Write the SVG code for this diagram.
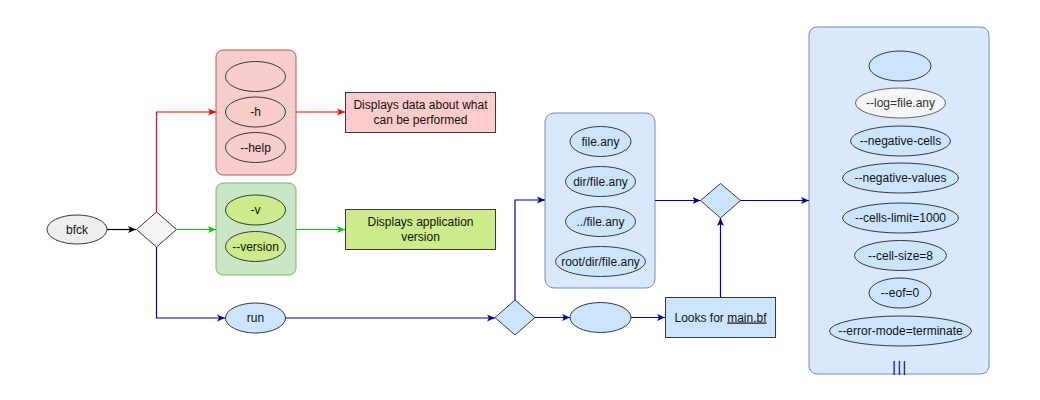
<svg xmlns="http://www.w3.org/2000/svg" width="1040" height="400" viewBox="0 0 1040 400">
<defs>
<style>
text{font-family:"Liberation Sans",Arial,sans-serif;font-size:12px;fill:#111;text-anchor:middle}
.el{stroke:#36393d;stroke-width:1}
.c{fill:none;stroke-width:1.2}
.r{stroke:#ff0000}.g{stroke:#00cc00}.b{stroke:#0000aa}.k{stroke:#000}
</style>
<marker id="mk" viewBox="0 0 8 8" refX="8" refY="4" markerWidth="8" markerHeight="8" markerUnits="userSpaceOnUse" orient="auto"><path d="M0,0.5 L8,4 L0,7.5 L2,4 z" fill="#000"/></marker>
<marker id="mr" viewBox="0 0 8 8" refX="8" refY="4" markerWidth="8" markerHeight="8" markerUnits="userSpaceOnUse" orient="auto"><path d="M0,0.5 L8,4 L0,7.5 L2,4 z" fill="#ff0000"/></marker>
<marker id="mg" viewBox="0 0 8 8" refX="8" refY="4" markerWidth="8" markerHeight="8" markerUnits="userSpaceOnUse" orient="auto"><path d="M0,0.5 L8,4 L0,7.5 L2,4 z" fill="#00cc00"/></marker>
<marker id="mb" viewBox="0 0 8 8" refX="8" refY="4" markerWidth="8" markerHeight="8" markerUnits="userSpaceOnUse" orient="auto"><path d="M0,0.5 L8,4 L0,7.5 L2,4 z" fill="#0000aa"/></marker>
</defs>
<rect width="1040" height="400" fill="#fff"/>

<g id="bfck"><ellipse class="el" cx="77" cy="229.5" rx="30" ry="14.5" fill="#eeeeee"/><text x="77" y="233.5">bfck</text></g>
<g id="decision1"><polygon class="el" points="156.5,212 176.5,229.5 156.5,247 136.5,229.5" fill="#f5f5f5" stroke="#000"/></g>

<g id="help-group">
<rect x="216" y="50" width="80" height="125" rx="7" fill="#f8cecc" stroke="#b85450"/>
<ellipse class="el" cx="255.5" cy="76.5" rx="30" ry="15" fill="#f8cecc"/>
<ellipse class="el" cx="255.5" cy="112" rx="30" ry="15" fill="#f8cecc"/><text x="255.5" y="116">-h</text>
<ellipse class="el" cx="255.5" cy="147.5" rx="30" ry="15" fill="#f8cecc"/><text x="255.5" y="151.5">--help</text>
</g>
<g id="help-box"><rect class="el" x="345.5" y="92.5" width="150" height="40" fill="#ffcccc"/><text x="420.5" y="109">Displays data about what</text><text x="420.5" y="124">can be performed</text></g>

<g id="version-group">
<rect x="216" y="183" width="80" height="92" rx="7" fill="#c9e7c5" stroke="#82b366"/>
<ellipse class="el" cx="255.5" cy="210" rx="30" ry="15" fill="#cdeb8b"/><text x="255.5" y="214">-v</text>
<ellipse class="el" cx="255.5" cy="246.5" rx="30" ry="15" fill="#cdeb8b"/><text x="255.5" y="250.5">--version</text>
</g>
<g id="version-box"><rect class="el" x="345.5" y="209.5" width="150" height="40" fill="#cdeb8b"/><text x="420.5" y="226">Displays application</text><text x="420.5" y="241">version</text></g>

<g id="run"><ellipse class="el" cx="255.5" cy="318" rx="30" ry="15" fill="#cce5ff"/><text x="255.5" y="322">run</text></g>
<g id="decision2"><polygon class="el" points="515,300 535,317.5 515,335 495,317.5" fill="#cce5ff"/></g>

<g id="files-group">
<rect x="545" y="113" width="110" height="175" rx="9" fill="#dae8fc" stroke="#6c8ebf"/>
<ellipse class="el" cx="600.5" cy="141.5" rx="30.5" ry="15" fill="#cce5ff"/><text x="600.5" y="145.5">file.any</text>
<ellipse class="el" cx="600.5" cy="181.5" rx="35" ry="15" fill="#cce5ff"/><text x="600.5" y="185.5">dir/file.any</text>
<ellipse class="el" cx="600.5" cy="221.5" rx="35" ry="15" fill="#cce5ff"/><text x="600.5" y="225.5">../file.any</text>
<ellipse class="el" cx="600.5" cy="261.5" rx="45" ry="15" fill="#cce5ff"/><text x="600.5" y="265.5">root/dir/file.any</text>
</g>
<g id="empty-file"><ellipse class="el" cx="600.5" cy="317.5" rx="30.5" ry="15" fill="#cce5ff"/></g>
<g id="looks-box"><rect class="el" x="665.5" y="297.5" width="110" height="40" fill="#cce5ff"/><text x="720.5" y="321.5">Looks for <tspan text-decoration="underline">main.bf</tspan></text></g>
<g id="decision3"><polygon class="el" points="720.5,183.5 740.5,200.5 720.5,218 700.5,200.5" fill="#cce5ff"/></g>

<g id="options-group">
<rect x="809" y="27" width="180" height="347" rx="8" fill="#dae8fc" stroke="#6c8ebf"/>
<ellipse class="el" cx="900" cy="66" rx="31" ry="15" fill="#cce5ff"/>
<ellipse cx="900.5" cy="103" rx="45" ry="15" fill="#f5f5f5" stroke="#666"/><text x="900.5" y="107" style="fill:#333">--log=file.any</text>
<ellipse class="el" cx="900.5" cy="141" rx="50" ry="15" fill="#cce5ff"/><text x="900.5" y="145">--negative-cells</text>
<ellipse class="el" cx="900.5" cy="178" rx="58" ry="15" fill="#cce5ff"/><text x="900.5" y="182">--negative-values</text>
<ellipse class="el" cx="900.5" cy="218" rx="58" ry="15" fill="#cce5ff"/><text x="900.5" y="222">--cells-limit=1000</text>
<ellipse class="el" cx="900.5" cy="255.5" rx="46" ry="15" fill="#cce5ff"/><text x="900.5" y="259.5">--cell-size=8</text>
<ellipse class="el" cx="900" cy="293" rx="31" ry="15" fill="#cce5ff"/><text x="900" y="297">--eof=0</text>
<ellipse class="el" cx="900.5" cy="331" rx="71" ry="15" fill="#cce5ff"/><text x="900.5" y="335">--error-mode=terminate</text>
<text x="900" y="372" style="font-size:14px;fill:#0000aa;letter-spacing:1.5px">|||</text>
</g>

<g id="connectors">
<path class="c k" d="M107,229.5 H136" marker-end="url(#mk)"/>
<path class="c r" d="M156.5,212 V112 H216" marker-end="url(#mr)"/>
<path class="c r" d="M296,112 H345" marker-end="url(#mr)"/>
<path class="c g" d="M176.5,229.5 H216" marker-end="url(#mg)"/>
<path class="c g" d="M296,229.5 H345" marker-end="url(#mg)"/>
<path class="c b" d="M156.5,247 V318 H225" marker-end="url(#mb)"/>
<path class="c b" d="M285.5,318 H495" marker-end="url(#mb)"/>
<path class="c b" d="M515,300 V200 H545" marker-end="url(#mb)"/>
<path class="c b" d="M535,317.5 H570" marker-end="url(#mb)"/>
<path class="c b" d="M631,317.5 H665" marker-end="url(#mb)"/>
<path class="c b" d="M720.5,297 V218" marker-end="url(#mb)"/>
<path class="c b" d="M655,200.5 H700.5" marker-end="url(#mb)"/>
<path class="c b" d="M740.5,200.5 H809" marker-end="url(#mb)"/>
</g>
</svg>
